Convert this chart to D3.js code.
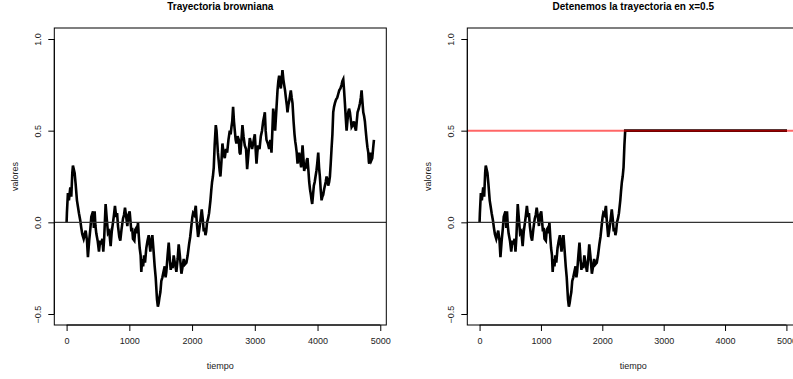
<!DOCTYPE html>
<html>
<head>
<meta charset="utf-8">
<script src="https://cdn.jsdelivr.net/npm/d3@7"></script>
<style>
  body { margin: 0; background: #fff; }
  svg { display: block; font-family: "Liberation Sans", Arial, sans-serif; }
</style>
</head>
<body>
<div id="chart"></div>
<script>
// Valores (tiempo, valor)
const tiempo = [
  0, 5, 21, 37, 59, 75, 91, 101, 128, 144, 165, 181, 197, 218, 234, 250, 272, 304, 325, 340,
  360, 380, 394, 421, 435, 447, 460, 473, 495, 516, 535, 553, 570, 585, 600, 622, 640, 660, 680,
  702, 720, 740, 755, 771, 790, 805, 819, 840, 856, 875, 899, 915, 931, 950, 968, 985, 1005, 1020, 1032,
  1045, 1058, 1080, 1095, 1112, 1125, 1138, 1152, 1165, 1180, 1191, 1205, 1220, 1235, 1250, 1271, 1290, 1309, 1322, 1335,
  1350, 1367, 1385, 1404, 1420, 1441, 1455, 1468, 1480, 1495, 1510, 1527, 1545, 1564, 1578, 1590, 1610, 1628, 1645, 1660,
  1670, 1690, 1707, 1725, 1750, 1770, 1787, 1805, 1830, 1850, 1867, 1885, 1910, 1930, 1952, 1970, 1989, 2005, 2016, 2035,
  2059, 2075, 2096, 2110, 2122, 2140, 2154, 2170, 2186, 2200, 2213, 2225, 2239, 2255, 2271, 2293, 2305, 2319, 2332, 2346,
  2360, 2378, 2390, 2399, 2412, 2426, 2440, 2452, 2468, 2484, 2500, 2521, 2540, 2559, 2580, 2601, 2615, 2628, 2640, 2654,
  2668, 2681, 2695, 2707, 2725, 2745, 2758, 2771, 2787, 2803, 2820, 2840, 2860, 2878, 2900, 2920, 2940, 2957, 2978, 3000,
  3013, 3027, 3040, 3053, 3075, 3096, 3115, 3133, 3150, 3160, 3173, 3186, 3208, 3229, 3248, 3266, 3280, 3293, 3308, 3324,
  3345, 3362, 3375, 3388, 3402, 3415, 3428, 3441, 3455, 3468, 3482, 3495, 3510, 3521, 3535, 3548, 3560, 3574, 3588, 3601,
  3618, 3633, 3645, 3654, 3668, 3681, 3695, 3707, 3722, 3739, 3750, 3761, 3775, 3787, 3800, 3814, 3828, 3840, 3855, 3867,
  3880, 3894, 3905, 3915, 3928, 3941, 3955, 3968, 3982, 3995, 4011, 4024, 4037, 4050, 4064, 4077, 4090, 4105, 4117, 4130,
  4144, 4157, 4170, 4185, 4197, 4210, 4223, 4237, 4250, 4263, 4277, 4295, 4314, 4330, 4346, 4365, 4383, 4396, 4410, 4423,
  4436, 4450, 4463, 4476, 4489, 4502, 4516, 4530, 4543, 4560, 4580, 4595, 4612, 4625, 4638, 4657, 4676, 4690, 4702, 4715,
  4729, 4742, 4755, 4768, 4782, 4795, 4809, 4818, 4824, 4835, 4846, 4860, 4872, 4885, 4899
];
const valores = [
  0.00, 0.05, 0.16, 0.12, 0.19, 0.14, 0.27, 0.31, 0.27, 0.21, 0.12, 0.085, 0.05, 0.01, -0.03, -0.065, -0.09, -0.045, -0.10, -0.19,
  -0.10, -0.03, 0.03, 0.06, -0.03, 0.06, -0.02, -0.06, -0.10, -0.16, -0.10, -0.12, -0.09, -0.16, -0.08, 0.10, 0.02, -0.06, -0.05,
  -0.13, -0.05, 0.00, 0.04, 0.09, 0.03, 0.05, -0.02, -0.08, -0.10, -0.04, 0.02, 0.04, 0.08, 0.03, -0.02, 0.04, 0.06, 0.00, -0.05,
  -0.03, -0.09, -0.10, -0.04, -0.03, -0.06, 0.00, -0.08, -0.14, -0.18, -0.27, -0.20, -0.24, -0.18, -0.22, -0.14, -0.10, -0.07, -0.12, -0.16,
  -0.10, -0.07, -0.15, -0.24, -0.30, -0.42, -0.46, -0.44, -0.41, -0.38, -0.32, -0.30, -0.27, -0.24, -0.30, -0.27, -0.18, -0.11, -0.20, -0.26,
  -0.22, -0.25, -0.18, -0.22, -0.27, -0.20, -0.12, -0.18, -0.28, -0.24, -0.20, -0.23, -0.22, -0.18, -0.12, -0.08, -0.02, 0.03, 0.05, 0.04,
  0.09, 0.00, -0.08, -0.05, -0.02, 0.03, 0.07, 0.02, -0.05, -0.03, -0.07, -0.05, 0.00, 0.02, 0.05, 0.12, 0.17, 0.22, 0.25, 0.30,
  0.42, 0.53, 0.50, 0.45, 0.38, 0.33, 0.28, 0.25, 0.33, 0.43, 0.38, 0.35, 0.40, 0.38, 0.45, 0.50, 0.48, 0.52, 0.55, 0.63,
  0.55, 0.50, 0.45, 0.43, 0.47, 0.45, 0.38, 0.37, 0.45, 0.53, 0.47, 0.42, 0.40, 0.29, 0.38, 0.46, 0.43, 0.40, 0.44, 0.48,
  0.40, 0.32, 0.38, 0.42, 0.40, 0.47, 0.50, 0.55, 0.58, 0.60, 0.50, 0.45, 0.43, 0.40, 0.45, 0.38, 0.50, 0.62, 0.58, 0.50,
  0.62, 0.72, 0.77, 0.80, 0.76, 0.73, 0.78, 0.83, 0.78, 0.75, 0.72, 0.68, 0.64, 0.60, 0.64, 0.66, 0.69, 0.72, 0.68, 0.65,
  0.55, 0.48, 0.44, 0.42, 0.38, 0.32, 0.36, 0.38, 0.34, 0.30, 0.36, 0.42, 0.35, 0.28, 0.30, 0.30, 0.34, 0.35, 0.28, 0.22,
  0.18, 0.15, 0.12, 0.10, 0.15, 0.20, 0.22, 0.25, 0.28, 0.32, 0.38, 0.30, 0.25, 0.18, 0.12, 0.14, 0.15, 0.18, 0.20, 0.22,
  0.25, 0.23, 0.20, 0.22, 0.25, 0.32, 0.40, 0.48, 0.60, 0.63, 0.65, 0.67, 0.68, 0.70, 0.72, 0.73, 0.75, 0.77, 0.78, 0.72,
  0.65, 0.57, 0.50, 0.55, 0.60, 0.62, 0.60, 0.56, 0.52, 0.53, 0.55, 0.52, 0.50, 0.55, 0.60, 0.62, 0.65, 0.68, 0.72, 0.66,
  0.60, 0.58, 0.55, 0.50, 0.45, 0.41, 0.38, 0.33, 0.32, 0.36, 0.38, 0.34, 0.35, 0.40, 0.45
];

const nivel = 0.5;          // barrera donde se detiene
const tiempoFinal = 5010;   // ultimo tiempo de la trayectoria detenida
const ticksX = [0, 1000, 2000, 3000, 4000, 5000];
const ticksY = [-0.5, 0, 0.5, 1.0];
const titulos = ["Trayectoria browniana", "Detenemos la trayectoria en x=0.5"];

const W = 793, H = 379;
const fuente = '"Liberation Sans", Arial, sans-serif';
const svg = d3.select('#chart').append('svg')
  .attr('width', W).attr('height', H);

// trayectoria detenida: hasta el primer cruce del nivel, luego constante
const completa = tiempo.map((t, i) => [t, valores[i]]);
const detenida = [];
for (let i = 0; i < completa.length; i++) {
  const [t, v] = completa[i];
  if (v >= nivel) {
    const [t0, v0] = completa[i - 1];
    const tc = t0 + (nivel - v0) / (v - v0) * (t - t0);
    detenida.push([tc, nivel], [tiempoFinal, nivel]);
    break;
  }
  detenida.push([t, v]);
}

function panel(left, xDomain, datos, titulo, barrera) {
  const top = 28, bottom = 325, right = left + 332;
  const x = d3.scaleLinear().domain(xDomain).range([left, right]);
  const y = d3.scaleLinear().domain([-0.56, 1.06]).range([bottom, top]);

  const g = svg.append('g');
  const clipId = 'clip' + Math.round(left);
  g.append('clipPath').attr('id', clipId)
    .append('rect').attr('x', left).attr('y', top).attr('width', right - left).attr('height', bottom - top);

  const plot = g.append('g').attr('clip-path', `url(#${clipId})`);

  plot.append('path')
    .datum(datos)
    .attr('fill', 'none')
    .attr('stroke', '#000')
    .attr('stroke-width', 2.6)
    .attr('d', d3.line().x(d => x(d[0])).y(d => y(d[1])));

  plot.append('line')
    .attr('x1', left).attr('x2', right)
    .attr('y1', y(0)).attr('y2', y(0))
    .attr('stroke', '#333').attr('stroke-width', 1.2);

  if (barrera) {
    plot.append('line')
      .attr('x1', left).attr('x2', right)
      .attr('y1', y(nivel)).attr('y2', y(nivel))
      .attr('stroke', 'red').attr('stroke-opacity', 0.6).attr('stroke-width', 2);
  }

  g.append('rect')
    .attr('x', left).attr('y', top)
    .attr('width', right - left).attr('height', bottom - top)
    .attr('fill', 'none').attr('stroke', '#000').attr('stroke-width', 1);

  // eje x
  const ax = g.append('g').attr('transform', `translate(0,${bottom})`)
    .call(d3.axisBottom(x).tickValues(ticksX).tickSize(6).tickPadding(7).tickFormat(d3.format('d')));
  ax.select('.domain').attr('d', `M${x(ticksX[0])},0H${x(ticksX[ticksX.length - 1])}`);
  ax.selectAll('text').attr('font-size', 9).attr('fill', '#222').attr('font-family', fuente);

  // eje y, etiquetas giradas como en R
  const ay = g.append('g').attr('transform', `translate(${left},0)`)
    .call(d3.axisLeft(y).tickValues(ticksY).tickSize(6).tickFormat(d3.format('.1f')));
  ay.select('.domain').attr('d', `M0,${y(ticksY[0])}V${y(ticksY[ticksY.length - 1])}`);
  ay.selectAll('text')
    .attr('font-size', 9).attr('fill', '#222').attr('font-family', fuente)
    .attr('x', null).attr('y', null).attr('dy', null)
    .attr('text-anchor', 'middle')
    .attr('transform', 'translate(-13,0) rotate(-90)');

  g.append('text')
    .attr('x', (left + right) / 2).attr('y', 369)
    .attr('text-anchor', 'middle').attr('font-size', 9).attr('fill', '#222')
    .text('tiempo');

  g.append('text')
    .attr('transform', `translate(${left - 36},${(top + bottom) / 2}) rotate(-90)`)
    .attr('text-anchor', 'middle').attr('font-size', 9).attr('fill', '#222')
    .text('valores');

  g.append('text')
    .attr('x', (left + right) / 2).attr('y', 10)
    .attr('text-anchor', 'middle').attr('font-size', 10).attr('font-weight', 'bold')
    .text(titulo);
}

panel(54.3, [-196, 5096], completa, titulos[0], false);
panel(467.3, [-200, 5210], detenida, titulos[1], true);
</script>
</body>
</html>
